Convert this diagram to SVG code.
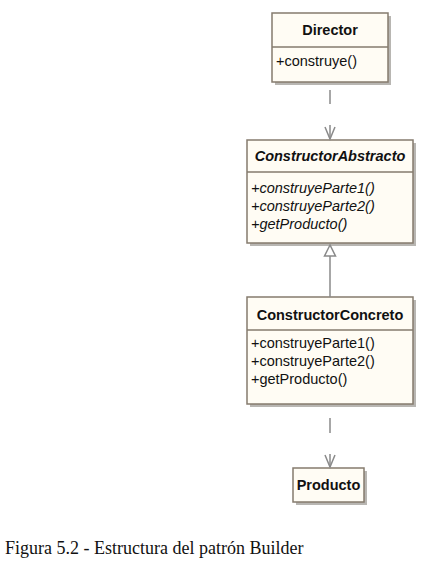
<svg xmlns="http://www.w3.org/2000/svg" width="428" height="564" viewBox="0 0 428 564">
<style>
.shadow{fill:#b8b6b2;}
.box{fill:#fffcf4;stroke:#857b6e;stroke-width:1.5;}
.div{stroke:#857b6e;stroke-width:1.5;}
.t{font-family:"Liberation Sans",Arial,sans-serif;font-size:14.5px;fill:#111;}
.h{font-weight:bold;text-anchor:middle;}
.i{font-style:italic;}
.conn{stroke:#8a8a8a;stroke-width:1.5;fill:none;}
.cap{font-family:"Liberation Serif","Times New Roman",serif;font-size:18px;fill:#111;}
</style>
<rect width="428" height="564" fill="#ffffff"/>
<g id="Director">
<rect class="shadow" x="275" y="16" width="116" height="69"/>
<rect class="box" x="272" y="13" width="116" height="69"/>
<line class="div" x1="272" y1="47" x2="388" y2="47"/>
<text class="t h" x="330" y="35">Director</text>
<text class="t" x="276" y="66">+construye()</text>
</g>
<g id="ConstructorAbstracto">
<rect class="shadow" x="250" y="143" width="166" height="103"/>
<rect class="box" x="247" y="140" width="166" height="103"/>
<line class="div" x1="247" y1="172" x2="413" y2="172"/>
<text class="t h i" x="330" y="161">ConstructorAbstracto</text>
<text class="t i" x="251" y="193">+construyeParte1()</text>
<text class="t i" x="251" y="211">+construyeParte2()</text>
<text class="t i" x="251" y="229">+getProducto()</text>
</g>
<g id="ConstructorConcreto">
<rect class="shadow" x="250" y="300" width="166" height="107"/>
<rect class="box" x="247" y="297" width="166" height="107"/>
<line class="div" x1="247" y1="330" x2="413" y2="330"/>
<text class="t h" x="330" y="320">ConstructorConcreto</text>
<text class="t" x="251" y="348">+construyeParte1()</text>
<text class="t" x="251" y="366">+construyeParte2()</text>
<text class="t" x="251" y="384">+getProducto()</text>
</g>
<g id="Producto">
<rect class="shadow" x="296" y="471" width="71" height="34"/>
<rect class="box" x="293" y="468" width="71" height="34"/>
<text class="t h" x="328.5" y="490">Producto</text>
</g>
<g id="connectors">
<line class="conn" x1="330" y1="90" x2="330" y2="104"/>
<line class="conn" x1="330" y1="125" x2="330" y2="139"/>
<polyline class="conn" points="325,127 330,139 335,127"/>
<polygon class="conn" points="330,245 324.5,256 335.5,256" fill="#ffffff"/>
<line class="conn" x1="330" y1="256" x2="330" y2="297"/>
<line class="conn" x1="330" y1="418" x2="330" y2="433"/>
<line class="conn" x1="330" y1="454" x2="330" y2="467"/>
<polyline class="conn" points="325,455 330,467 335,455"/>
</g>
<text class="cap" x="5" y="554">Figura 5.2 - Estructura del patrón Builder</text>
</svg>
